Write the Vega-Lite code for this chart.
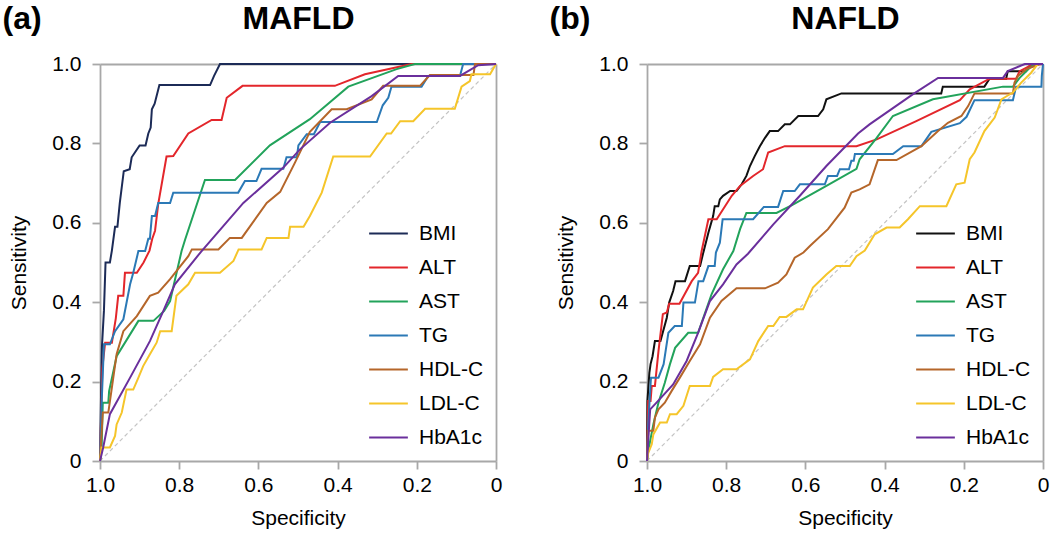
{
"$schema": "https://vega.github.io/schema/vega-lite/v6.json",
"background": "white",
"padding": {"left": 2, "top": 2, "right": 4, "bottom": 4},
"config": {
  "font": "Liberation Sans",
  "view": {"stroke": null},
  "axis": {"domainColor": "#a8a8a8", "domainWidth": 1.8, "tickColor": "#a8a8a8", "tickWidth": 1.8, "tickSize": 8, "labelColor": "#000", "titleColor": "#000", "labelFontSize": 21, "titleFontSize": 21, "titleFontWeight": "normal", "grid": false, "labelFlush": false, "labelOverlap": false},
  "legend": {"orient": "none", "legendX": 268, "legendY": 149, "symbolType": "stroke", "symbolStrokeWidth": 2, "symbolSize": 1500, "labelFontSize": 21, "labelColor": "#000", "labelOffset": 10, "rowPadding": 3, "title": null}
},
"datasets": {
"diag": [{"spec": 1, "sens": 0}, {"spec": 0, "sens": 1}],
"a": [
{"marker":"BMI","spec":1,"sens":0},{"marker":"BMI","spec":0.997,"sens":0.19},{"marker":"BMI","spec":0.995,"sens":0.29},{"marker":"BMI","spec":0.99,"sens":0.38},{"marker":"BMI","spec":0.986,"sens":0.5},{"marker":"BMI","spec":0.975,"sens":0.5},{"marker":"BMI","spec":0.97,"sens":0.53},{"marker":"BMI","spec":0.962,"sens":0.59},{"marker":"BMI","spec":0.956,"sens":0.59},{"marker":"BMI","spec":0.95,"sens":0.65},{"marker":"BMI","spec":0.94,"sens":0.73},{"marker":"BMI","spec":0.925,"sens":0.735},{"marker":"BMI","spec":0.92,"sens":0.765},{"marker":"BMI","spec":0.9,"sens":0.795},{"marker":"BMI","spec":0.885,"sens":0.795},{"marker":"BMI","spec":0.878,"sens":0.825},{"marker":"BMI","spec":0.872,"sens":0.84},{"marker":"BMI","spec":0.869,"sens":0.886},{"marker":"BMI","spec":0.862,"sens":0.9},{"marker":"BMI","spec":0.85,"sens":0.947},{"marker":"BMI","spec":0.722,"sens":0.947},{"marker":"BMI","spec":0.712,"sens":0.97},{"marker":"BMI","spec":0.697,"sens":1},{"marker":"BMI","spec":0,"sens":1},
{"marker":"ALT","spec":1,"sens":0},{"marker":"ALT","spec":0.994,"sens":0.235},{"marker":"ALT","spec":0.987,"sens":0.298},{"marker":"ALT","spec":0.97,"sens":0.298},{"marker":"ALT","spec":0.96,"sens":0.36},{"marker":"ALT","spec":0.954,"sens":0.416},{"marker":"ALT","spec":0.941,"sens":0.416},{"marker":"ALT","spec":0.937,"sens":0.474},{"marker":"ALT","spec":0.907,"sens":0.474},{"marker":"ALT","spec":0.89,"sens":0.5},{"marker":"ALT","spec":0.875,"sens":0.53},{"marker":"ALT","spec":0.868,"sens":0.56},{"marker":"ALT","spec":0.861,"sens":0.58},{"marker":"ALT","spec":0.853,"sens":0.647},{"marker":"ALT","spec":0.832,"sens":0.767},{"marker":"ALT","spec":0.815,"sens":0.768},{"marker":"ALT","spec":0.777,"sens":0.825},{"marker":"ALT","spec":0.718,"sens":0.859},{"marker":"ALT","spec":0.693,"sens":0.859},{"marker":"ALT","spec":0.68,"sens":0.915},{"marker":"ALT","spec":0.64,"sens":0.945},{"marker":"ALT","spec":0.407,"sens":0.945},{"marker":"ALT","spec":0.331,"sens":0.974},{"marker":"ALT","spec":0.213,"sens":1},{"marker":"ALT","spec":0,"sens":1},
{"marker":"AST","spec":1,"sens":0},{"marker":"AST","spec":0.996,"sens":0.03},{"marker":"AST","spec":0.993,"sens":0.147},{"marker":"AST","spec":0.979,"sens":0.147},{"marker":"AST","spec":0.977,"sens":0.176},{"marker":"AST","spec":0.958,"sens":0.264},{"marker":"AST","spec":0.903,"sens":0.353},{"marker":"AST","spec":0.865,"sens":0.353},{"marker":"AST","spec":0.838,"sens":0.378},{"marker":"AST","spec":0.823,"sens":0.403},{"marker":"AST","spec":0.794,"sens":0.529},{"marker":"AST","spec":0.785,"sens":0.558},{"marker":"AST","spec":0.735,"sens":0.708},{"marker":"AST","spec":0.659,"sens":0.708},{"marker":"AST","spec":0.571,"sens":0.795},{"marker":"AST","spec":0.47,"sens":0.861},{"marker":"AST","spec":0.373,"sens":0.943},{"marker":"AST","spec":0.251,"sens":0.987},{"marker":"AST","spec":0.205,"sens":1},{"marker":"AST","spec":0,"sens":1},
{"marker":"TG","spec":1,"sens":0},{"marker":"TG","spec":0.996,"sens":0.143},{"marker":"TG","spec":0.99,"sens":0.294},{"marker":"TG","spec":0.975,"sens":0.294},{"marker":"TG","spec":0.962,"sens":0.327},{"marker":"TG","spec":0.941,"sens":0.357},{"marker":"TG","spec":0.924,"sens":0.445},{"marker":"TG","spec":0.916,"sens":0.474},{"marker":"TG","spec":0.903,"sens":0.529},{"marker":"TG","spec":0.886,"sens":0.529},{"marker":"TG","spec":0.878,"sens":0.56},{"marker":"TG","spec":0.874,"sens":0.56},{"marker":"TG","spec":0.869,"sens":0.617},{"marker":"TG","spec":0.861,"sens":0.617},{"marker":"TG","spec":0.853,"sens":0.65},{"marker":"TG","spec":0.823,"sens":0.65},{"marker":"TG","spec":0.815,"sens":0.676},{"marker":"TG","spec":0.651,"sens":0.676},{"marker":"TG","spec":0.634,"sens":0.705},{"marker":"TG","spec":0.605,"sens":0.705},{"marker":"TG","spec":0.592,"sens":0.736},{"marker":"TG","spec":0.537,"sens":0.736},{"marker":"TG","spec":0.529,"sens":0.765},{"marker":"TG","spec":0.503,"sens":0.765},{"marker":"TG","spec":0.499,"sens":0.795},{"marker":"TG","spec":0.478,"sens":0.823},{"marker":"TG","spec":0.46,"sens":0.823},{"marker":"TG","spec":0.444,"sens":0.854},{"marker":"TG","spec":0.301,"sens":0.854},{"marker":"TG","spec":0.286,"sens":0.896},{"marker":"TG","spec":0.272,"sens":0.915},{"marker":"TG","spec":0.264,"sens":0.943},{"marker":"TG","spec":0.188,"sens":0.943},{"marker":"TG","spec":0.171,"sens":0.97},{"marker":"TG","spec":0.091,"sens":0.97},{"marker":"TG","spec":0.083,"sens":1},{"marker":"TG","spec":0,"sens":1},
{"marker":"HDL-C","spec":1,"sens":0},{"marker":"HDL-C","spec":0.993,"sens":0.122},{"marker":"HDL-C","spec":0.979,"sens":0.122},{"marker":"HDL-C","spec":0.958,"sens":0.269},{"marker":"HDL-C","spec":0.941,"sens":0.327},{"marker":"HDL-C","spec":0.907,"sens":0.365},{"marker":"HDL-C","spec":0.874,"sens":0.416},{"marker":"HDL-C","spec":0.853,"sens":0.424},{"marker":"HDL-C","spec":0.823,"sens":0.458},{"marker":"HDL-C","spec":0.777,"sens":0.516},{"marker":"HDL-C","spec":0.768,"sens":0.533},{"marker":"HDL-C","spec":0.701,"sens":0.533},{"marker":"HDL-C","spec":0.672,"sens":0.562},{"marker":"HDL-C","spec":0.642,"sens":0.562},{"marker":"HDL-C","spec":0.579,"sens":0.65},{"marker":"HDL-C","spec":0.545,"sens":0.678},{"marker":"HDL-C","spec":0.508,"sens":0.751},{"marker":"HDL-C","spec":0.47,"sens":0.829},{"marker":"HDL-C","spec":0.415,"sens":0.886},{"marker":"HDL-C","spec":0.377,"sens":0.886},{"marker":"HDL-C","spec":0.314,"sens":0.911},{"marker":"HDL-C","spec":0.285,"sens":0.945},{"marker":"HDL-C","spec":0.192,"sens":0.945},{"marker":"HDL-C","spec":0.167,"sens":0.972},{"marker":"HDL-C","spec":0.057,"sens":0.972},{"marker":"HDL-C","spec":0.053,"sens":1},{"marker":"HDL-C","spec":0,"sens":1},
{"marker":"LDL-C","spec":1,"sens":0},{"marker":"LDL-C","spec":0.996,"sens":0.034},{"marker":"LDL-C","spec":0.975,"sens":0.034},{"marker":"LDL-C","spec":0.962,"sens":0.063},{"marker":"LDL-C","spec":0.958,"sens":0.092},{"marker":"LDL-C","spec":0.945,"sens":0.122},{"marker":"LDL-C","spec":0.933,"sens":0.18},{"marker":"LDL-C","spec":0.916,"sens":0.18},{"marker":"LDL-C","spec":0.903,"sens":0.21},{"marker":"LDL-C","spec":0.891,"sens":0.239},{"marker":"LDL-C","spec":0.874,"sens":0.269},{"marker":"LDL-C","spec":0.857,"sens":0.298},{"marker":"LDL-C","spec":0.848,"sens":0.327},{"marker":"LDL-C","spec":0.819,"sens":0.327},{"marker":"LDL-C","spec":0.807,"sens":0.416},{"marker":"LDL-C","spec":0.777,"sens":0.445},{"marker":"LDL-C","spec":0.76,"sens":0.474},{"marker":"LDL-C","spec":0.697,"sens":0.474},{"marker":"LDL-C","spec":0.663,"sens":0.504},{"marker":"LDL-C","spec":0.65,"sens":0.533},{"marker":"LDL-C","spec":0.592,"sens":0.533},{"marker":"LDL-C","spec":0.579,"sens":0.562},{"marker":"LDL-C","spec":0.524,"sens":0.562},{"marker":"LDL-C","spec":0.52,"sens":0.59},{"marker":"LDL-C","spec":0.486,"sens":0.59},{"marker":"LDL-C","spec":0.47,"sens":0.617},{"marker":"LDL-C","spec":0.44,"sens":0.676},{"marker":"LDL-C","spec":0.411,"sens":0.767},{"marker":"LDL-C","spec":0.318,"sens":0.767},{"marker":"LDL-C","spec":0.276,"sens":0.825},{"marker":"LDL-C","spec":0.265,"sens":0.825},{"marker":"LDL-C","spec":0.242,"sens":0.856},{"marker":"LDL-C","spec":0.209,"sens":0.856},{"marker":"LDL-C","spec":0.179,"sens":0.887},{"marker":"LDL-C","spec":0.104,"sens":0.887},{"marker":"LDL-C","spec":0.087,"sens":0.943},{"marker":"LDL-C","spec":0.066,"sens":0.957},{"marker":"LDL-C","spec":0.062,"sens":0.974},{"marker":"LDL-C","spec":0.015,"sens":0.974},{"marker":"LDL-C","spec":0,"sens":1},
{"marker":"HbA1c","spec":1,"sens":0},{"marker":"HbA1c","spec":0.992,"sens":0.034},{"marker":"HbA1c","spec":0.975,"sens":0.118},{"marker":"HbA1c","spec":0.924,"sens":0.21},{"marker":"HbA1c","spec":0.874,"sens":0.302},{"marker":"HbA1c","spec":0.84,"sens":0.378},{"marker":"HbA1c","spec":0.811,"sens":0.445},{"marker":"HbA1c","spec":0.745,"sens":0.527},{"marker":"HbA1c","spec":0.638,"sens":0.65},{"marker":"HbA1c","spec":0.537,"sens":0.739},{"marker":"HbA1c","spec":0.495,"sens":0.785},{"marker":"HbA1c","spec":0.419,"sens":0.852},{"marker":"HbA1c","spec":0.314,"sens":0.919},{"marker":"HbA1c","spec":0.247,"sens":0.97},{"marker":"HbA1c","spec":0.091,"sens":0.97},{"marker":"HbA1c","spec":0.045,"sens":0.997},{"marker":"HbA1c","spec":0,"sens":1}
],
"b": [
{"marker":"BMI","spec":1,"sens":0},{"marker":"BMI","spec":0.999,"sens":0.151},{"marker":"BMI","spec":0.994,"sens":0.222},{"marker":"BMI","spec":0.991,"sens":0.244},{"marker":"BMI","spec":0.986,"sens":0.264},{"marker":"BMI","spec":0.98,"sens":0.302},{"marker":"BMI","spec":0.966,"sens":0.302},{"marker":"BMI","spec":0.95,"sens":0.361},{"marker":"BMI","spec":0.944,"sens":0.399},{"marker":"BMI","spec":0.934,"sens":0.428},{"marker":"BMI","spec":0.928,"sens":0.453},{"marker":"BMI","spec":0.904,"sens":0.453},{"marker":"BMI","spec":0.892,"sens":0.491},{"marker":"BMI","spec":0.866,"sens":0.491},{"marker":"BMI","spec":0.859,"sens":0.52},{"marker":"BMI","spec":0.845,"sens":0.575},{"marker":"BMI","spec":0.833,"sens":0.617},{"marker":"BMI","spec":0.829,"sens":0.642},{"marker":"BMI","spec":0.82,"sens":0.642},{"marker":"BMI","spec":0.816,"sens":0.659},{"marker":"BMI","spec":0.808,"sens":0.668},{"marker":"BMI","spec":0.79,"sens":0.68},{"marker":"BMI","spec":0.774,"sens":0.68},{"marker":"BMI","spec":0.761,"sens":0.697},{"marker":"BMI","spec":0.749,"sens":0.718},{"marker":"BMI","spec":0.74,"sens":0.743},{"marker":"BMI","spec":0.728,"sens":0.768},{"marker":"BMI","spec":0.715,"sens":0.793},{"marker":"BMI","spec":0.702,"sens":0.814},{"marker":"BMI","spec":0.69,"sens":0.831},{"marker":"BMI","spec":0.669,"sens":0.831},{"marker":"BMI","spec":0.652,"sens":0.848},{"marker":"BMI","spec":0.639,"sens":0.848},{"marker":"BMI","spec":0.618,"sens":0.869},{"marker":"BMI","spec":0.568,"sens":0.869},{"marker":"BMI","spec":0.555,"sens":0.886},{"marker":"BMI","spec":0.547,"sens":0.911},{"marker":"BMI","spec":0.509,"sens":0.926},{"marker":"BMI","spec":0.257,"sens":0.926},{"marker":"BMI","spec":0.253,"sens":0.943},{"marker":"BMI","spec":0.148,"sens":0.943},{"marker":"BMI","spec":0.135,"sens":0.963},{"marker":"BMI","spec":0.093,"sens":0.963},{"marker":"BMI","spec":0.089,"sens":0.982},{"marker":"BMI","spec":0.043,"sens":0.982},{"marker":"BMI","spec":0.034,"sens":0.995},{"marker":"BMI","spec":0.017,"sens":1},{"marker":"BMI","spec":0,"sens":1},
{"marker":"ALT","spec":1,"sens":0},{"marker":"ALT","spec":0.997,"sens":0.151},{"marker":"ALT","spec":0.991,"sens":0.151},{"marker":"ALT","spec":0.988,"sens":0.189},{"marker":"ALT","spec":0.98,"sens":0.189},{"marker":"ALT","spec":0.971,"sens":0.277},{"marker":"ALT","spec":0.96,"sens":0.37},{"marker":"ALT","spec":0.95,"sens":0.374},{"marker":"ALT","spec":0.944,"sens":0.396},{"marker":"ALT","spec":0.918,"sens":0.396},{"marker":"ALT","spec":0.887,"sens":0.453},{"marker":"ALT","spec":0.871,"sens":0.474},{"marker":"ALT","spec":0.862,"sens":0.529},{"marker":"ALT","spec":0.845,"sens":0.609},{"marker":"ALT","spec":0.824,"sens":0.609},{"marker":"ALT","spec":0.786,"sens":0.668},{"marker":"ALT","spec":0.765,"sens":0.693},{"marker":"ALT","spec":0.732,"sens":0.718},{"marker":"ALT","spec":0.707,"sens":0.735},{"marker":"ALT","spec":0.694,"sens":0.777},{"marker":"ALT","spec":0.652,"sens":0.793},{"marker":"ALT","spec":0.471,"sens":0.793},{"marker":"ALT","spec":0.42,"sens":0.81},{"marker":"ALT","spec":0.32,"sens":0.856},{"marker":"ALT","spec":0.21,"sens":0.909},{"marker":"ALT","spec":0.185,"sens":0.936},{"marker":"ALT","spec":0.135,"sens":0.963},{"marker":"ALT","spec":0.068,"sens":0.963},{"marker":"ALT","spec":0.059,"sens":0.982},{"marker":"ALT","spec":0.03,"sens":0.997},{"marker":"ALT","spec":0,"sens":1},
{"marker":"AST","spec":1,"sens":0},{"marker":"AST","spec":0.997,"sens":0.025},{"marker":"AST","spec":0.984,"sens":0.092},{"marker":"AST","spec":0.971,"sens":0.147},{"marker":"AST","spec":0.955,"sens":0.197},{"marker":"AST","spec":0.942,"sens":0.244},{"marker":"AST","spec":0.929,"sens":0.285},{"marker":"AST","spec":0.896,"sens":0.323},{"marker":"AST","spec":0.871,"sens":0.323},{"marker":"AST","spec":0.837,"sens":0.42},{"marker":"AST","spec":0.808,"sens":0.483},{"marker":"AST","spec":0.782,"sens":0.529},{"marker":"AST","spec":0.765,"sens":0.584},{"marker":"AST","spec":0.749,"sens":0.625},{"marker":"AST","spec":0.673,"sens":0.625},{"marker":"AST","spec":0.635,"sens":0.644},{"marker":"AST","spec":0.547,"sens":0.693},{"marker":"AST","spec":0.471,"sens":0.736},{"marker":"AST","spec":0.463,"sens":0.76},{"marker":"AST","spec":0.42,"sens":0.814},{"marker":"AST","spec":0.379,"sens":0.869},{"marker":"AST","spec":0.278,"sens":0.911},{"marker":"AST","spec":0.101,"sens":0.943},{"marker":"AST","spec":0.076,"sens":0.943},{"marker":"AST","spec":0.059,"sens":0.965},{"marker":"AST","spec":0.034,"sens":0.99},{"marker":"AST","spec":0.02,"sens":1},{"marker":"AST","spec":0,"sens":1},
{"marker":"TG","spec":1,"sens":0},{"marker":"TG","spec":0.997,"sens":0.092},{"marker":"TG","spec":0.99,"sens":0.21},{"marker":"TG","spec":0.971,"sens":0.21},{"marker":"TG","spec":0.958,"sens":0.244},{"marker":"TG","spec":0.946,"sens":0.323},{"marker":"TG","spec":0.93,"sens":0.34},{"marker":"TG","spec":0.912,"sens":0.34},{"marker":"TG","spec":0.908,"sens":0.399},{"marker":"TG","spec":0.879,"sens":0.399},{"marker":"TG","spec":0.87,"sens":0.453},{"marker":"TG","spec":0.858,"sens":0.453},{"marker":"TG","spec":0.845,"sens":0.491},{"marker":"TG","spec":0.829,"sens":0.491},{"marker":"TG","spec":0.826,"sens":0.525},{"marker":"TG","spec":0.816,"sens":0.55},{"marker":"TG","spec":0.809,"sens":0.609},{"marker":"TG","spec":0.732,"sens":0.609},{"marker":"TG","spec":0.705,"sens":0.64},{"marker":"TG","spec":0.669,"sens":0.64},{"marker":"TG","spec":0.656,"sens":0.68},{"marker":"TG","spec":0.627,"sens":0.68},{"marker":"TG","spec":0.614,"sens":0.697},{"marker":"TG","spec":0.551,"sens":0.697},{"marker":"TG","spec":0.543,"sens":0.718},{"marker":"TG","spec":0.52,"sens":0.718},{"marker":"TG","spec":0.513,"sens":0.735},{"marker":"TG","spec":0.49,"sens":0.735},{"marker":"TG","spec":0.484,"sens":0.756},{"marker":"TG","spec":0.478,"sens":0.756},{"marker":"TG","spec":0.475,"sens":0.773},{"marker":"TG","spec":0.379,"sens":0.773},{"marker":"TG","spec":0.353,"sens":0.793},{"marker":"TG","spec":0.307,"sens":0.793},{"marker":"TG","spec":0.282,"sens":0.829},{"marker":"TG","spec":0.21,"sens":0.851},{"marker":"TG","spec":0.193,"sens":0.867},{"marker":"TG","spec":0.173,"sens":0.909},{"marker":"TG","spec":0.076,"sens":0.909},{"marker":"TG","spec":0.068,"sens":0.943},{"marker":"TG","spec":0.004,"sens":0.943},{"marker":"TG","spec":0.003,"sens":0.97},{"marker":"TG","spec":0,"sens":1},
{"marker":"HDL-C","spec":1,"sens":0},{"marker":"HDL-C","spec":0.997,"sens":0.076},{"marker":"HDL-C","spec":0.984,"sens":0.076},{"marker":"HDL-C","spec":0.98,"sens":0.109},{"marker":"HDL-C","spec":0.971,"sens":0.13},{"marker":"HDL-C","spec":0.955,"sens":0.147},{"marker":"HDL-C","spec":0.938,"sens":0.176},{"marker":"HDL-C","spec":0.917,"sens":0.21},{"marker":"HDL-C","spec":0.892,"sens":0.252},{"marker":"HDL-C","spec":0.866,"sens":0.294},{"marker":"HDL-C","spec":0.841,"sens":0.361},{"marker":"HDL-C","spec":0.812,"sens":0.403},{"marker":"HDL-C","spec":0.774,"sens":0.435},{"marker":"HDL-C","spec":0.702,"sens":0.435},{"marker":"HDL-C","spec":0.669,"sens":0.449},{"marker":"HDL-C","spec":0.648,"sens":0.47},{"marker":"HDL-C","spec":0.627,"sens":0.512},{"marker":"HDL-C","spec":0.605,"sens":0.525},{"marker":"HDL-C","spec":0.588,"sens":0.542},{"marker":"HDL-C","spec":0.543,"sens":0.584},{"marker":"HDL-C","spec":0.501,"sens":0.638},{"marker":"HDL-C","spec":0.484,"sens":0.676},{"marker":"HDL-C","spec":0.463,"sens":0.684},{"marker":"HDL-C","spec":0.438,"sens":0.697},{"marker":"HDL-C","spec":0.417,"sens":0.758},{"marker":"HDL-C","spec":0.37,"sens":0.758},{"marker":"HDL-C","spec":0.307,"sens":0.793},{"marker":"HDL-C","spec":0.265,"sens":0.831},{"marker":"HDL-C","spec":0.24,"sens":0.852},{"marker":"HDL-C","spec":0.206,"sens":0.869},{"marker":"HDL-C","spec":0.189,"sens":0.894},{"marker":"HDL-C","spec":0.173,"sens":0.926},{"marker":"HDL-C","spec":0.076,"sens":0.926},{"marker":"HDL-C","spec":0.072,"sens":0.953},{"marker":"HDL-C","spec":0.063,"sens":0.97},{"marker":"HDL-C","spec":0.042,"sens":0.987},{"marker":"HDL-C","spec":0.02,"sens":0.995},{"marker":"HDL-C","spec":0.01,"sens":1},{"marker":"HDL-C","spec":0,"sens":1},
{"marker":"LDL-C","spec":1,"sens":0},{"marker":"LDL-C","spec":0.997,"sens":0.02},{"marker":"LDL-C","spec":0.988,"sens":0.042},{"marker":"LDL-C","spec":0.984,"sens":0.067},{"marker":"LDL-C","spec":0.967,"sens":0.097},{"marker":"LDL-C","spec":0.95,"sens":0.097},{"marker":"LDL-C","spec":0.942,"sens":0.118},{"marker":"LDL-C","spec":0.925,"sens":0.118},{"marker":"LDL-C","spec":0.908,"sens":0.139},{"marker":"LDL-C","spec":0.892,"sens":0.189},{"marker":"LDL-C","spec":0.841,"sens":0.189},{"marker":"LDL-C","spec":0.833,"sens":0.212},{"marker":"LDL-C","spec":0.808,"sens":0.231},{"marker":"LDL-C","spec":0.774,"sens":0.231},{"marker":"LDL-C","spec":0.74,"sens":0.256},{"marker":"LDL-C","spec":0.719,"sens":0.302},{"marker":"LDL-C","spec":0.694,"sens":0.34},{"marker":"LDL-C","spec":0.681,"sens":0.34},{"marker":"LDL-C","spec":0.665,"sens":0.363},{"marker":"LDL-C","spec":0.648,"sens":0.363},{"marker":"LDL-C","spec":0.622,"sens":0.382},{"marker":"LDL-C","spec":0.606,"sens":0.382},{"marker":"LDL-C","spec":0.581,"sens":0.437},{"marker":"LDL-C","spec":0.547,"sens":0.47},{"marker":"LDL-C","spec":0.522,"sens":0.491},{"marker":"LDL-C","spec":0.488,"sens":0.491},{"marker":"LDL-C","spec":0.471,"sens":0.516},{"marker":"LDL-C","spec":0.45,"sens":0.53},{"marker":"LDL-C","spec":0.425,"sens":0.571},{"marker":"LDL-C","spec":0.395,"sens":0.588},{"marker":"LDL-C","spec":0.362,"sens":0.588},{"marker":"LDL-C","spec":0.341,"sens":0.609},{"marker":"LDL-C","spec":0.311,"sens":0.642},{"marker":"LDL-C","spec":0.244,"sens":0.642},{"marker":"LDL-C","spec":0.219,"sens":0.697},{"marker":"LDL-C","spec":0.198,"sens":0.701},{"marker":"LDL-C","spec":0.185,"sens":0.76},{"marker":"LDL-C","spec":0.173,"sens":0.777},{"marker":"LDL-C","spec":0.148,"sens":0.831},{"marker":"LDL-C","spec":0.122,"sens":0.865},{"marker":"LDL-C","spec":0.105,"sens":0.911},{"marker":"LDL-C","spec":0.09,"sens":0.92},{"marker":"LDL-C","spec":0.076,"sens":0.928},{"marker":"LDL-C","spec":0.055,"sens":0.953},{"marker":"LDL-C","spec":0.03,"sens":0.978},{"marker":"LDL-C","spec":0.013,"sens":1},{"marker":"LDL-C","spec":0,"sens":1},
{"marker":"HbA1c","spec":1,"sens":0},{"marker":"HbA1c","spec":0.997,"sens":0.05},{"marker":"HbA1c","spec":0.992,"sens":0.13},{"marker":"HbA1c","spec":0.976,"sens":0.147},{"marker":"HbA1c","spec":0.934,"sens":0.193},{"marker":"HbA1c","spec":0.9,"sens":0.252},{"marker":"HbA1c","spec":0.871,"sens":0.323},{"marker":"HbA1c","spec":0.841,"sens":0.403},{"marker":"HbA1c","spec":0.808,"sens":0.445},{"marker":"HbA1c","spec":0.774,"sens":0.495},{"marker":"HbA1c","spec":0.745,"sens":0.522},{"marker":"HbA1c","spec":0.681,"sens":0.596},{"marker":"HbA1c","spec":0.614,"sens":0.668},{"marker":"HbA1c","spec":0.547,"sens":0.743},{"marker":"HbA1c","spec":0.467,"sens":0.825},{"marker":"HbA1c","spec":0.438,"sens":0.848},{"marker":"HbA1c","spec":0.328,"sens":0.924},{"marker":"HbA1c","spec":0.265,"sens":0.965},{"marker":"HbA1c","spec":0.101,"sens":0.965},{"marker":"HbA1c","spec":0.089,"sens":0.982},{"marker":"HbA1c","spec":0.046,"sens":1},{"marker":"HbA1c","spec":0,"sens":1}
]
},
"spacing": 47,
"resolve": {"scale": {"color": "independent"}, "legend": {"color": "independent"}},
"hconcat": [
{
  "width": 396, "height": 397,
  "resolve": {"axis": {"x": "independent", "y": "independent"}},
  "layer": [
    {"data": {"name": "diag"},
     "mark": {"type": "line", "color": "#c4c4c4", "strokeDash": [4, 3], "strokeWidth": 1.2},
     "encoding": {
       "x": {"field": "spec", "type": "quantitative", "scale": {"domain": [0, 1], "reverse": true, "nice": false},
             "axis": {"orient": "top", "title": "MAFLD", "labels": false, "ticks": false, "titleFontSize": 32, "titleFontWeight": "bold", "titleY": -36, "titleBaseline": "alphabetic"}},
       "y": {"field": "sens", "type": "quantitative", "scale": {"domain": [0, 1], "nice": false},
             "axis": {"orient": "right", "title": "(a)", "labels": false, "ticks": false, "titleAngle": 0, "titleAlign": "left", "titleX": -494, "titleY": -36, "titleBaseline": "alphabetic", "titleFontSize": 32, "titleFontWeight": "bold"}}
     }},
    {"data": {"name": "a"},
     "mark": {"type": "line", "strokeWidth": 2},
     "encoding": {
       "x": {"field": "spec", "type": "quantitative", "scale": {"domain": [0, 1], "reverse": true, "nice": false},
             "axis": {"orient": "bottom", "title": "Specificity", "values": [0, 0.2, 0.4, 0.6, 0.8, 1], "labelExpr": "datum.value === 0 ? '0' : format(datum.value, '.1f')", "labelPadding": 5, "titlePadding": 12}},
       "y": {"field": "sens", "type": "quantitative", "scale": {"domain": [0, 1], "nice": false},
             "axis": {"orient": "left", "title": "Sensitivity", "values": [0, 0.2, 0.4, 0.6, 0.8, 1], "labelExpr": "datum.value === 0 ? '0' : format(datum.value, '.1f')", "labelPadding": 11, "titlePadding": 22}},
       "color": {"field": "marker", "type": "nominal",
                 "scale": {"domain": ["BMI", "ALT", "AST", "TG", "HDL-C", "LDL-C", "HbA1c"], "range": ["#1c2b57", "#e3262b", "#22a35b", "#2b79b6", "#b5662a", "#f5c52a", "#6a2f9c"]},
                 "legend": {}},
       "order": [{"field": "sens", "sort": "ascending"}, {"field": "spec", "sort": "descending"}]
     }}
  ]
},
{
  "width": 396, "height": 397,
  "resolve": {"axis": {"x": "independent", "y": "independent"}},
  "layer": [
    {"data": {"name": "diag"},
     "mark": {"type": "line", "color": "#c4c4c4", "strokeDash": [4, 3], "strokeWidth": 1.2},
     "encoding": {
       "x": {"field": "spec", "type": "quantitative", "scale": {"domain": [0, 1], "reverse": true, "nice": false},
             "axis": {"orient": "top", "title": "NAFLD", "labels": false, "ticks": false, "titleFontSize": 32, "titleFontWeight": "bold", "titleY": -36, "titleBaseline": "alphabetic"}},
       "y": {"field": "sens", "type": "quantitative", "scale": {"domain": [0, 1], "nice": false},
             "axis": {"orient": "right", "title": "(b)", "labels": false, "ticks": false, "titleAngle": 0, "titleAlign": "left", "titleX": -494, "titleY": -36, "titleBaseline": "alphabetic", "titleFontSize": 32, "titleFontWeight": "bold"}}
     }},
    {"data": {"name": "b"},
     "mark": {"type": "line", "strokeWidth": 2},
     "encoding": {
       "x": {"field": "spec", "type": "quantitative", "scale": {"domain": [0, 1], "reverse": true, "nice": false},
             "axis": {"orient": "bottom", "title": "Specificity", "values": [0, 0.2, 0.4, 0.6, 0.8, 1], "labelExpr": "datum.value === 0 ? '0' : format(datum.value, '.1f')", "labelPadding": 5, "titlePadding": 12}},
       "y": {"field": "sens", "type": "quantitative", "scale": {"domain": [0, 1], "nice": false},
             "axis": {"orient": "left", "title": "Sensitivity", "values": [0, 0.2, 0.4, 0.6, 0.8, 1], "labelExpr": "datum.value === 0 ? '0' : format(datum.value, '.1f')", "labelPadding": 11, "titlePadding": 22}},
       "color": {"field": "marker", "type": "nominal",
                 "scale": {"domain": ["BMI", "ALT", "AST", "TG", "HDL-C", "LDL-C", "HbA1c"], "range": ["#111111", "#e3262b", "#22a35b", "#2b79b6", "#b5662a", "#f5c52a", "#6a2f9c"]},
                 "legend": {}},
       "order": [{"field": "sens", "sort": "ascending"}, {"field": "spec", "sort": "descending"}]
     }}
  ]
}
]
}
